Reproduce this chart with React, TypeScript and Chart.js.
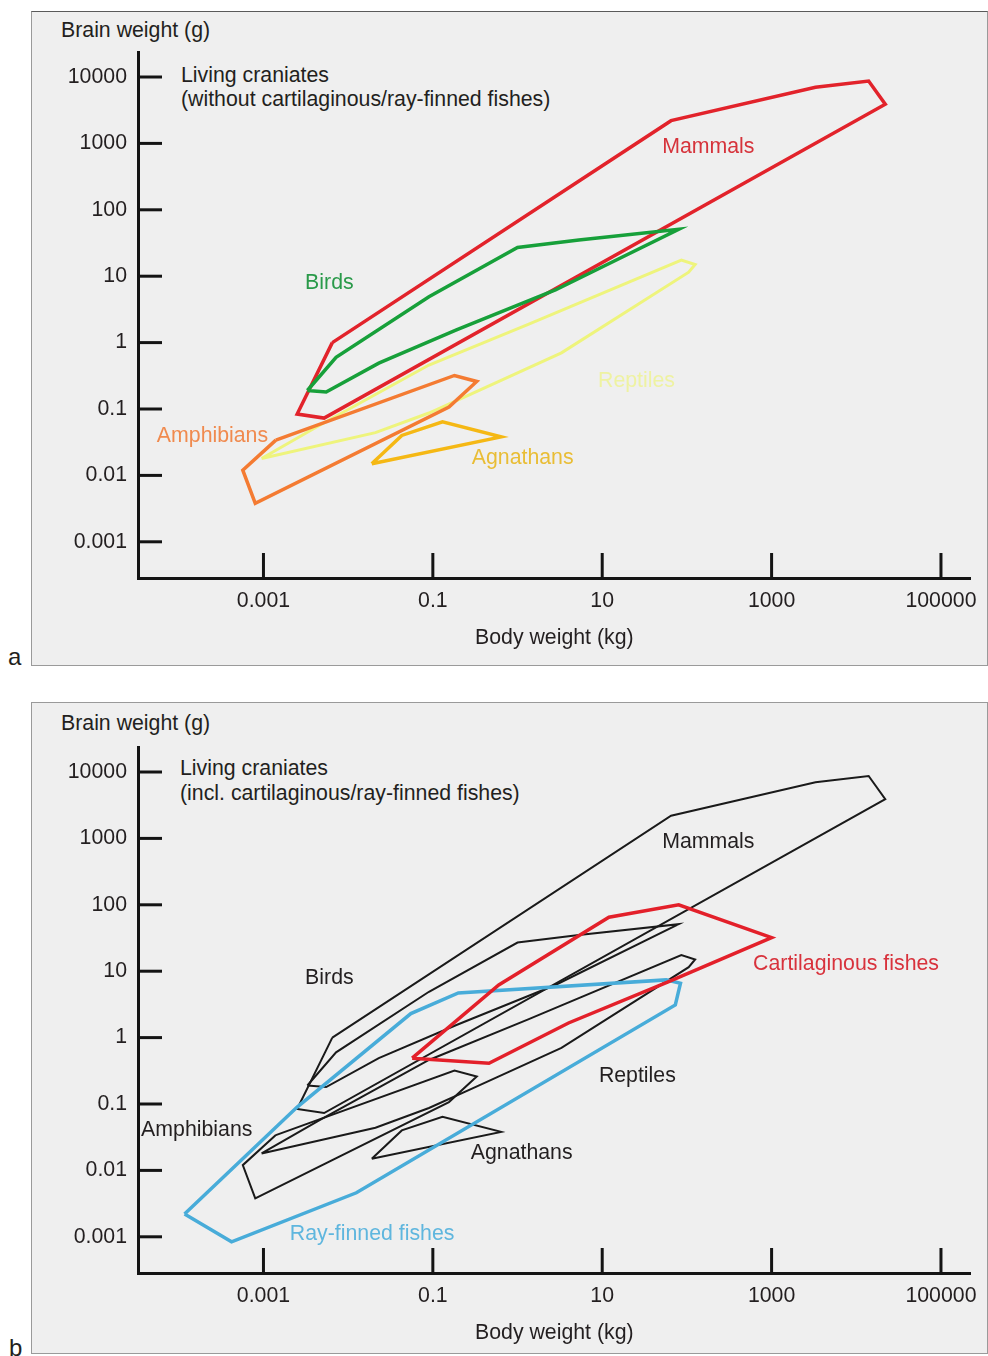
import React, { useEffect, useRef } from "react";
import { Chart, registerables } from "chart.js";

Chart.register(...registerables);

const FONT = "'Liberation Sans', Arial, Helvetica, sans-serif";
const TEXT = "#231f20";
const AXIS = "#141414";
const BG = "#efefef";
const FS = 21.3;

// Axes (body weight in kg, brain weight in g), log-log
const X_TICKS = [0.001, 0.1, 10, 1000, 100000];
const X_TICK_LABELS = ["0.001", "0.1", "10", "1000", "100000"];
const Y_TICKS = [0.001, 0.01, 0.1, 1, 10, 100, 1000, 10000];
const Y_TICK_LABELS = ["0.001", "0.01", "0.1", "1", "10", "100", "1000", "10000"];
const X_RANGE = [3.3e-5, 2.24e5];
const Y_RANGE = [2.85e-4, 2.38e4];

type Pt = [number, number];

// Outline polygons: [body weight kg, brain weight g]
const MAMMALS: Pt[] = [
  [0.0065, 1.0], [65, 2200], [3300, 7000], [14000, 8700], [22000, 3900],
  [0.0052, 0.073], [0.0025, 0.084], [0.0065, 1.0],
];
const BIRDS: Pt[] = [
  [0.0033, 0.19], [0.0072, 0.6], [0.09, 4.9], [1.0, 27], [5.3, 35], [80, 51],
  [2.8, 6.2], [0.19, 1.55], [0.023, 0.49], [0.0055, 0.18], [0.0033, 0.19],
];
const REPTILES: Pt[] = [
  [0.00095, 0.018], [0.0046, 0.057], [0.09, 0.46], [1.36, 1.9], [86, 17.5],
  [125, 15], [105, 11.5], [3.3, 0.7], [0.29, 0.17], [0.09, 0.087],
  [0.021, 0.044], [0.00095, 0.018],
];
const AMPHIBIANS: Pt[] = [
  [0.0014, 0.034], [0.18, 0.32], [0.33, 0.26], [0.155, 0.107],
  [0.0008, 0.0038], [0.00057, 0.012], [0.0014, 0.034],
];
const AGNATHANS: Pt[] = [
  [0.019, 0.015], [0.043, 0.04], [0.13, 0.064], [0.64, 0.038], [0.019, 0.015],
];
const CARTILAGINOUS: Pt[] = [
  [0.057, 0.49], [0.6, 6.2], [12, 65], [80, 100], [1000, 32], [60, 6.9],
  [4, 1.66], [0.46, 0.41], [0.057, 0.49],
];
const RAY_FINNED: Pt[] = [
  [0.000117, 0.0022], [0.0025, 0.09], [0.055, 2.3], [0.2, 4.7], [57, 7.4],
  [84, 6.6], [73, 3.1], [0.0125, 0.0046], [0.00042, 0.00084], [0.000117, 0.0022],
];

type Series = { label: string; points: Pt[]; color: string; width: number };
type Tag = { text: string; x: number; y: number; color: string };

const C_MAMMAL = "#e2232b";
const C_BIRD = "#17a03a";
const C_REPTILE = "#eef47c";
const C_AMPHIB = "#f47b32";
const C_AGNATH = "#f5b814";
const C_BLACK = "#1a1a1a";
const C_CART = "#e3202a";
const C_RAY = "#48acd9";

const SERIES_A: Series[] = [
  { label: "Birds", points: BIRDS, color: C_BIRD, width: 3.5 },
  { label: "Mammals", points: MAMMALS, color: C_MAMMAL, width: 3.5 },
  { label: "Agnathans", points: AGNATHANS, color: C_AGNATH, width: 3.5 },
  { label: "Amphibians", points: AMPHIBIANS, color: C_AMPHIB, width: 3.5 },
  { label: "Reptiles", points: REPTILES, color: C_REPTILE, width: 3 },
];

const SERIES_B: Series[] = [
  { label: "Cartilaginous fishes", points: CARTILAGINOUS, color: C_CART, width: 3.5 },
  { label: "Ray-finned fishes", points: RAY_FINNED, color: C_RAY, width: 3.5 },
  { label: "Mammals", points: MAMMALS, color: C_BLACK, width: 2 },
  { label: "Birds", points: BIRDS, color: C_BLACK, width: 2 },
  { label: "Reptiles", points: REPTILES, color: C_BLACK, width: 2 },
  { label: "Amphibians", points: AMPHIBIANS, color: C_BLACK, width: 2 },
  { label: "Agnathans", points: AGNATHANS, color: C_BLACK, width: 2 },
];

const TAGS_A: Tag[] = [
  { text: "Mammals", x: 179, y: 880, color: "#d6333b" },
  { text: "Birds", x: 0.006, y: 7.9, color: "#2a9a4a" },
  { text: "Reptiles", x: 25.4, y: 0.264, color: "#eef2a2" },
  { text: "Amphibians", x: 0.00025, y: 0.039, color: "#f08a4e" },
  { text: "Agnathans", x: 1.15, y: 0.0183, color: "#e9bd35" },
];

const TAGS_B: Tag[] = [
  { text: "Mammals", x: 179, y: 890, color: TEXT },
  { text: "Cartilaginous fishes", x: 7570, y: 12.8, color: "#d8323c" },
  { text: "Birds", x: 0.006, y: 7.9, color: TEXT },
  { text: "Reptiles", x: 26, y: 0.26, color: TEXT },
  { text: "Amphibians", x: 0.000163, y: 0.0405, color: TEXT },
  { text: "Agnathans", x: 1.12, y: 0.018, color: TEXT },
  { text: "Ray-finned fishes", x: 0.0192, y: 0.0011, color: "#5fb6de" },
];

const CANVAS_W = 955;
const PLOT_H = 526;
const X_AXIS_H = 87;

function Panel({ top, padTop, series, tags }: { top: number; padTop: number; series: Series[]; tags: Tag[] }) {
  const ref = useRef<HTMLCanvasElement>(null);
  const h = padTop + PLOT_H + X_AXIS_H;

  useEffect(() => {
    const canvas = ref.current;
    if (!canvas) return;

    const inwardTicks = {
      id: "inwardTicks",
      afterDraw(chart: any) {
        const { ctx, chartArea, scales } = chart;
        ctx.save();
        ctx.strokeStyle = AXIS;
        ctx.lineWidth = 3;
        ctx.lineCap = "butt";
        X_TICKS.forEach((v) => {
          const px = scales.x.getPixelForValue(v);
          ctx.beginPath();
          ctx.moveTo(px, chartArea.bottom);
          ctx.lineTo(px, chartArea.bottom - 25);
          ctx.stroke();
        });
        Y_TICKS.forEach((v) => {
          const py = scales.y.getPixelForValue(v);
          ctx.beginPath();
          ctx.moveTo(chartArea.left, py);
          ctx.lineTo(chartArea.left + 24, py);
          ctx.stroke();
        });
        ctx.restore();
      },
    };

    const regionTags = {
      id: "regionTags",
      afterDatasetsDraw(chart: any) {
        const { ctx, scales } = chart;
        ctx.save();
        ctx.font = `${FS}px ${FONT}`;
        ctx.textAlign = "center";
        ctx.textBaseline = "middle";
        tags.forEach((t) => {
          ctx.fillStyle = t.color;
          ctx.fillText(t.text, scales.x.getPixelForValue(t.x), scales.y.getPixelForValue(t.y));
        });
        ctx.restore();
      },
    };

    const chart = new Chart(canvas, {
      type: "scatter",
      data: {
        datasets: series.map((s) => ({
          label: s.label,
          data: s.points.map(([x, y]) => ({ x, y })),
          showLine: true,
          borderColor: s.color,
          backgroundColor: s.color,
          borderWidth: s.width,
          pointRadius: 0,
          pointHoverRadius: 0,
          fill: false,
          tension: 0,
          borderJoinStyle: "miter",
          borderCapStyle: "butt",
        })) as any,
      },
      options: {
        animation: false,
        responsive: false,
        devicePixelRatio: 1,
        events: [],
        layout: { padding: { top: padTop, right: 14, left: 0, bottom: 0 } },
        plugins: { legend: { display: false }, tooltip: { enabled: false } },
        scales: {
          x: {
            type: "logarithmic",
            min: X_RANGE[0],
            max: X_RANGE[1],
            afterBuildTicks: (s: any) => {
              s.ticks = X_TICKS.map((v) => ({ value: v }));
            },
            afterFit: (s: any) => {
              s.height = X_AXIS_H;
            },
            grid: { display: true, drawOnChartArea: false, drawTicks: false, color: "rgba(0,0,0,0)" },
            border: { display: true, color: AXIS, width: 3 },
            ticks: {
              autoSkip: false,
              maxRotation: 0,
              minRotation: 0,
              padding: 10,
              color: TEXT,
              font: { size: FS, family: FONT },
              callback: (_v: any, i: number) => X_TICK_LABELS[i],
            },
            title: {
              display: true,
              text: "Body weight (kg)",
              color: TEXT,
              font: { size: FS, family: FONT },
              padding: { top: 0, bottom: 14 },
            },
          },
          y: {
            type: "logarithmic",
            min: Y_RANGE[0],
            max: Y_RANGE[1],
            afterBuildTicks: (s: any) => {
              s.ticks = Y_TICKS.map((v) => ({ value: v }));
            },
            afterFit: (s: any) => {
              s.width = 106;
            },
            grid: { display: true, drawOnChartArea: false, drawTicks: false, color: "rgba(0,0,0,0)" },
            border: { display: true, color: AXIS, width: 3 },
            ticks: {
              autoSkip: false,
              padding: 11,
              color: TEXT,
              font: { size: FS, family: FONT },
              callback: (_v: any, i: number) => Y_TICK_LABELS[i],
            },
          },
        },
      } as any,
      plugins: [inwardTicks, regionTags],
    });
    return () => chart.destroy();
  }, []);

  return (
    <canvas
      ref={ref}
      width={CANVAS_W}
      height={h}
      style={{ position: "absolute", left: 32, top, width: CANVAS_W, height: h, display: "block" }}
    />
  );
}

function Txt({ left, top, size = FS, children }: { left: number; top: number; size?: number; children: React.ReactNode }) {
  return (
    <div style={{ position: "absolute", left, top, fontSize: size, lineHeight: `${size < 22 ? 20 : 24}px`, whiteSpace: "nowrap", color: TEXT }}>
      {children}
    </div>
  );
}

const frameStyle = (top: number, height: number): React.CSSProperties => ({
  position: "absolute",
  left: 31,
  top,
  width: 957,
  height,
  boxSizing: "border-box",
  border: "1px solid #9a9a9a",
  background: BG,
});

export default function App() {
  return (
    <div
      style={{
        position: "absolute",
        left: 0,
        top: 0,
        width: 988,
        height: 1356,
        overflow: "hidden",
        background: "#ffffff",
        fontFamily: FONT,
        color: TEXT,
      }}
    >
      <div style={{ ...frameStyle(11, 655), borderTopColor: "#5a5a5a" }} />
      <Txt left={61} top={20}>Brain weight (g)</Txt>
      <Txt left={181} top={65}>Living craniates</Txt>
      <Txt left={181} top={89}>(without cartilaginous/ray-finned fishes)</Txt>
      <Panel top={12} padTop={40} series={SERIES_A} tags={TAGS_A} />
      <Txt left={8} top={645} size={24}>a</Txt>

      <div style={frameStyle(702, 652)} />
      <Txt left={61} top={713}>Brain weight (g)</Txt>
      <Txt left={180} top={758}>Living craniates</Txt>
      <Txt left={180} top={783}>(incl. cartilaginous/ray-finned fishes)</Txt>
      <Panel top={703} padTop={44} series={SERIES_B} tags={TAGS_B} />
      <Txt left={9} top={1336} size={24}>b</Txt>
    </div>
  );
}
